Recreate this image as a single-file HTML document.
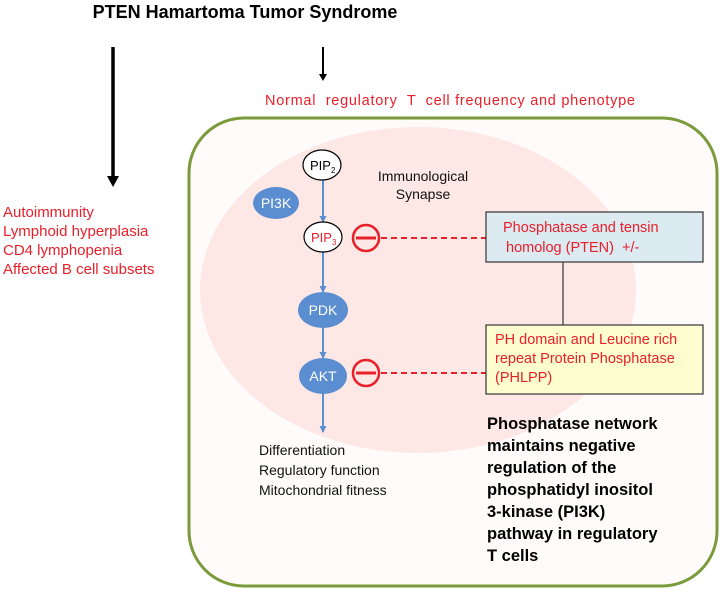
<!DOCTYPE html>
<html><head><meta charset="utf-8"><style>
body{margin:0;background:#fff;}
svg text{font-family:"Liberation Sans",sans-serif;white-space:pre;}
</style></head><body>
<svg width="722" height="591" viewBox="0 0 722 591" xmlns="http://www.w3.org/2000/svg">
<defs>
<marker id="abl" markerWidth="8" markerHeight="7" refX="6" refY="3.5" orient="auto" markerUnits="userSpaceOnUse"><path d="M0,0 L7,3.5 L0,7 z" fill="#5b8ed0"/></marker>
</defs>
<text x="245" y="18" text-anchor="middle" font-weight="bold" font-size="18" fill="#000">PTEN Hamartoma Tumor Syndrome</text>
<line x1="113" y1="47" x2="113" y2="180" stroke="#000" stroke-width="3.5"/>
<path d="M107,176 L119,176 L113,187 z" fill="#000"/>
<line x1="323" y1="47" x2="323" y2="75" stroke="#000" stroke-width="2"/>
<path d="M319,74 L327,74 L323,81 z" fill="#000"/>
<text x="265" y="105" font-size="14.5" fill="#e8202a" textLength="370" lengthAdjust="spacing">Normal  regulatory  T  cell frequency and phenotype</text>
<g font-size="15" fill="#e8202a">
<text x="3" y="217">Autoimmunity</text>
<text x="3" y="236">Lymphoid hyperplasia</text>
<text x="3" y="255">CD4 lymphopenia</text>
<text x="3" y="274">Affected B cell subsets</text>
</g>
<rect x="189" y="118" width="528" height="468" rx="55" fill="#fffbfb" stroke="#7a9a3c" stroke-width="3"/>
<ellipse cx="418" cy="290" rx="218" ry="163" fill="#fde8e6"/>
<text x="423" y="181" text-anchor="middle" font-size="14" fill="#111">Immunological</text>
<text x="423" y="199" text-anchor="middle" font-size="14" fill="#111">Synapse</text>
<line x1="323" y1="180" x2="323" y2="222" stroke="#5b8ed0" stroke-width="2" marker-end="url(#abl)"/>
<line x1="323" y1="252" x2="323" y2="292" stroke="#5b8ed0" stroke-width="2" marker-end="url(#abl)"/>
<line x1="323" y1="327" x2="323" y2="358" stroke="#5b8ed0" stroke-width="2" marker-end="url(#abl)"/>
<line x1="323" y1="393" x2="323" y2="432" stroke="#5b8ed0" stroke-width="2" marker-end="url(#abl)"/>
<ellipse cx="322" cy="165" rx="19" ry="15" fill="#fff" stroke="#000" stroke-width="1.2"/>
<text x="310" y="170" font-size="13" fill="#000">PIP<tspan font-size="8" dy="3">2</tspan></text>
<ellipse cx="276" cy="203" rx="23" ry="16" fill="#5b8ed0"/>
<text x="276" y="208" text-anchor="middle" font-size="14" fill="#fff">PI3K</text>
<ellipse cx="323" cy="237" rx="19" ry="15" fill="#fff" stroke="#000" stroke-width="1.2"/>
<text x="311" y="242" font-size="13" fill="#e8202a">PIP<tspan font-size="8" dy="3">3</tspan></text>
<ellipse cx="323" cy="310" rx="25" ry="18" fill="#5b8ed0"/>
<text x="323" y="315" text-anchor="middle" font-size="14" fill="#fff">PDK</text>
<ellipse cx="323" cy="376" rx="24" ry="18" fill="#5b8ed0"/>
<text x="323" y="381" text-anchor="middle" font-size="14" fill="#fff">AKT</text>
<circle cx="366" cy="238" r="13" fill="none" stroke="#e8202a" stroke-width="2.5"/>
<line x1="356" y1="238" x2="376" y2="238" stroke="#e8202a" stroke-width="3"/>
<circle cx="366" cy="373" r="13" fill="none" stroke="#e8202a" stroke-width="2.5"/>
<line x1="356" y1="373" x2="376" y2="373" stroke="#e8202a" stroke-width="3"/>
<line x1="381" y1="238" x2="486" y2="238" stroke="#e8202a" stroke-width="2" stroke-dasharray="6,4"/>
<line x1="381" y1="373" x2="486" y2="373" stroke="#e8202a" stroke-width="2" stroke-dasharray="6,4"/>
<line x1="563" y1="262" x2="563" y2="325" stroke="#333" stroke-width="1.2"/>
<rect x="486" y="212" width="217" height="50" fill="#dceaf1" stroke="#333" stroke-width="1.2"/>
<text x="503" y="232" font-size="14.5" fill="#e8202a">Phosphatase and tensin</text>
<text x="506" y="252" font-size="14.5" fill="#e8202a">homolog (PTEN)  +/-</text>
<rect x="486" y="325" width="217" height="69" fill="#fdfdd0" stroke="#333" stroke-width="1.2"/>
<text x="495" y="344" font-size="14.5" fill="#e8202a">PH domain and Leucine rich</text>
<text x="495" y="363" font-size="14.5" fill="#e8202a">repeat Protein Phosphatase</text>
<text x="495" y="382" font-size="14.5" fill="#e8202a">(PHLPP)</text>
<g font-size="14" fill="#111">
<text x="259" y="455">Differentiation</text>
<text x="259" y="475">Regulatory function</text>
<text x="259" y="495">Mitochondrial fitness</text>
</g>
<g font-size="16.5" font-weight="bold" fill="#000">
<text x="487" y="429">Phosphatase network</text>
<text x="487" y="451">maintains negative</text>
<text x="487" y="473">regulation of the</text>
<text x="487" y="495">phosphatidyl inositol</text>
<text x="487" y="517">3-kinase (PI3K)</text>
<text x="487" y="539">pathway in regulatory</text>
<text x="487" y="561">T cells</text>
</g>
</svg>
</body></html>
